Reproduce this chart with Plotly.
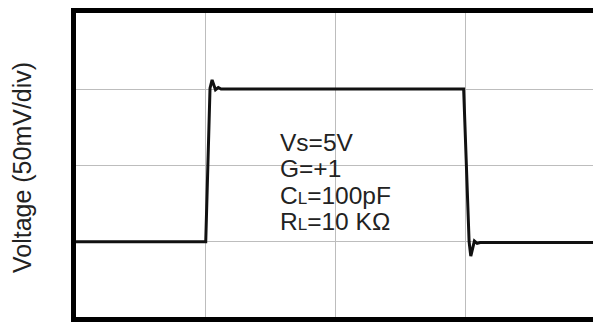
import plotly.graph_objects as go

# Signal trace in scope divisions (x: time/div, y: 50mV/div)
time_div = [0.0, 1.000, 1.033, 1.049, 1.075, 1.097, 1.118, 2.988, 3.030, 3.043, 3.071, 3.092, 3.115, 4.0]
volt_div = [0.99, 0.99, 3.01, 3.12, 2.99, 3.02, 3.00, 3.00, 0.99, 0.80, 1.00, 0.97, 0.98, 0.98]

grid_x = [1, 2, 3]
grid_y = [1, 2, 3]

label_lines = ["Vs=5V", "G=+1",
               "C<span style='font-size:17px'>L</span>=100pF",
               "R<span style='font-size:17px'>L</span>=10 KΩ"]
label_y = [2.29, 1.95, 1.605, 1.263]
label_x = 1.557

fig = go.Figure()
fig.add_trace(go.Scatter(x=time_div, y=volt_div, mode="lines",
                         line=dict(color="#111111", width=3), hoverinfo="skip"))

fig.update_layout(
    width=593, height=323,
    margin=dict(l=76, r=0, t=13, b=6),
    paper_bgcolor="white", plot_bgcolor="white",
    showlegend=False,
    font=dict(family="Liberation Sans, Arial, sans-serif", color="#222222"),
)
fig.update_xaxes(range=[0, 3.985], tickvals=grid_x, showticklabels=False, ticks="",
                 showgrid=True, gridcolor="#bdbdbd", gridwidth=1, zeroline=False,
                 showline=True, linecolor="black", linewidth=5, mirror=True)
fig.update_yaxes(range=[0, 4], tickvals=grid_y, showticklabels=False, ticks="",
                 showgrid=True, gridcolor="#bdbdbd", gridwidth=1, zeroline=False,
                 showline=True, linecolor="black", linewidth=5, mirror=False)

for txt, yy in zip(label_lines, label_y):
    fig.add_annotation(x=label_x, y=yy, xref="x", yref="y", text=txt, showarrow=False,
                       xanchor="left", yanchor="middle",
                       font=dict(size=24.5, color="#222222"))

fig.add_annotation(x=-0.1044, y=0.49, xref="paper", yref="paper",
                   text="Voltage (50mV/div)", textangle=-90, showarrow=False,
                   xanchor="center", yanchor="middle",
                   font=dict(size=25, color="#222222"))

fig.write_html(
    "out.html",
    config={"displayModeBar": False},
    post_script="document.body.style.margin='0';document.body.style.overflow='hidden';"
                "document.documentElement.style.overflow='hidden';",
)
